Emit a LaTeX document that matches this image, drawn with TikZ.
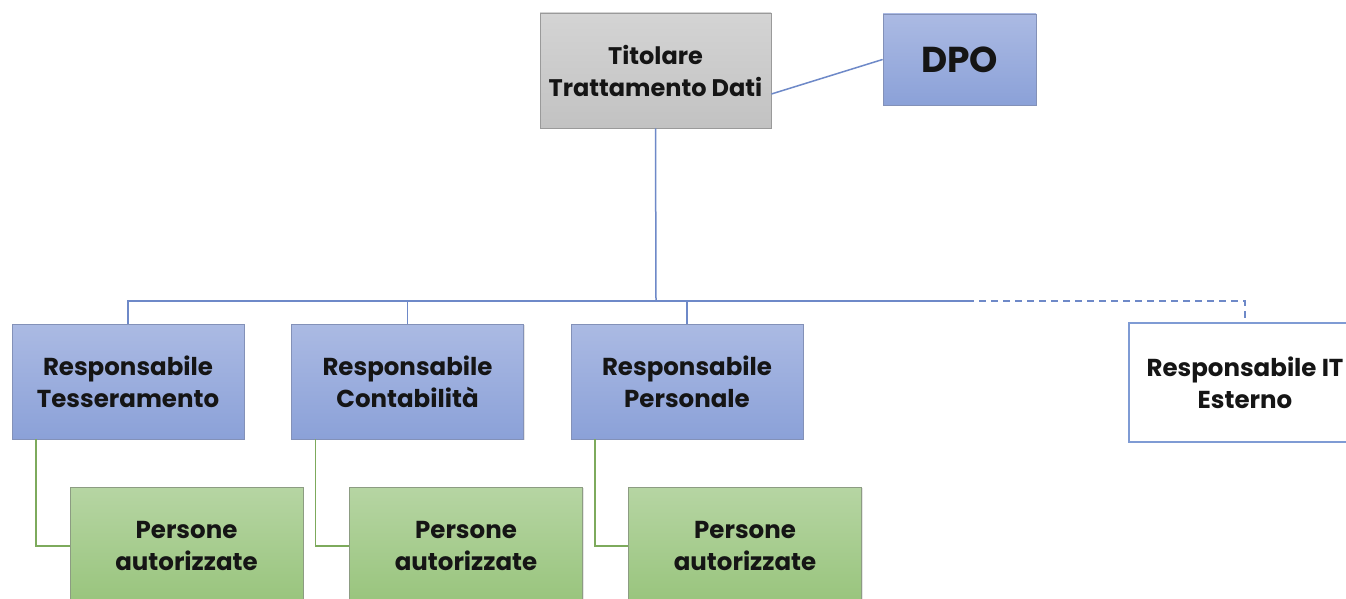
\documentclass[tikz,border=0pt]{standalone}
\usepackage{fontspec}
\setmainfont{Poppins Bold}
\usetikzlibrary{shadows}
\definecolor{bluetop}{HTML}{ABBAE3}
\definecolor{bluebot}{HTML}{8BA1D8}
\definecolor{blueedge}{HTML}{8391B8}
\definecolor{greentop}{HTML}{B6D5A3}
\definecolor{greenbot}{HTML}{98C47C}
\definecolor{greenedge}{HTML}{8C9C82}
\definecolor{graytop}{HTML}{D4D4D4}
\definecolor{graybot}{HTML}{C2C2C2}
\definecolor{grayedge}{HTML}{9A9A9A}
\definecolor{linkblue}{HTML}{6E89C8}
\definecolor{linkgreen}{HTML}{7DAA5C}
\definecolor{itedge}{HTML}{7F9BD4}
\definecolor{txt}{HTML}{151515}
\tikzset{
  box/.style={rectangle, inner sep=0pt, align=center, text=txt,
    font=\fontsize{24.5}{32}\selectfont, line width=0.8pt,
    drop shadow={opacity=0.2, shadow xshift=1.2pt, shadow yshift=-1.2pt}},
  bluebox/.style={box, draw=blueedge, top color=bluetop, bottom color=bluebot,
    minimum width=232pt, minimum height=115pt},
  greenbox/.style={box, draw=greenedge, top color=greentop, bottom color=greenbot,
    minimum width=233pt, minimum height=118pt},
  graybox/.style={box, draw=grayedge, top color=graytop, bottom color=graybot,
    minimum width=231pt, minimum height=115pt},
  itbox/.style={rectangle, inner sep=0pt, align=center, text=txt,
    font=\fontsize{24.5}{32}\selectfont, draw=itedge, line width=2pt, fill=white,
    minimum width=232pt, minimum height=119pt},
  blink/.style={draw=linkblue, line width=1.5pt},
  glink/.style={draw=linkgreen, line width=1.5pt},
}
\begin{document}
\begin{tikzpicture}[x=1pt,y=-1pt]
\useasboundingbox (0,0) rectangle (1346,599);
\clip (0,0) rectangle (1346,599);
\fill[white] (0,0) rectangle (1346,599);

\node[graybox, font=\fontsize{24}{32}\selectfont] (tit) at (655.5,70.5) {Titolare\\Trattamento Dati};
\node[bluebox, minimum width=153pt, minimum height=91pt,
      font=\fontsize{36}{40}\selectfont] (dpo) at (959.5,59.5) {DPO};

\node[bluebox] (r1) at (128,381.5) {Responsabile\\Tesseramento};
\node[bluebox] (r2) at (407.5,381.5) {Responsabile\\Contabilità};
\node[bluebox] (r3) at (687,381.5) {Responsabile\\Personale};
\node[itbox] (it) at (1245,382.5) {Responsabile IT\\Esterno};

\node[greenbox] (g1) at (186.5,546) {Persone\\autorizzate};
\node[greenbox] (g2) at (466,546) {Persone\\autorizzate};
\node[greenbox] (g3) at (745,546) {Persone\\autorizzate};

\coordinate (bus) at (656,301);
\coordinate (dashstart) at (967,301);

\draw[blink] ([yshift=-23.5pt]tit.east) -- (dpo.west);
\draw[blink] (tit.south) -- (bus);
\draw[blink] (r1.north) |- (dashstart);
\draw[blink] (r2.north) -- (r2.north |- bus);
\draw[blink] (r3.north) -- (r3.north |- bus);
\draw[blink, dashed, dash pattern=on 7pt off 5pt] (dashstart) -| (it.north);

\draw[glink] ([xshift=24.5pt]r1.south west) |- (g1.west);
\draw[glink] ([xshift=24.5pt]r2.south west) |- (g2.west);
\draw[glink] ([xshift=24.5pt]r3.south west) |- (g3.west);
\end{tikzpicture}
\end{document}
